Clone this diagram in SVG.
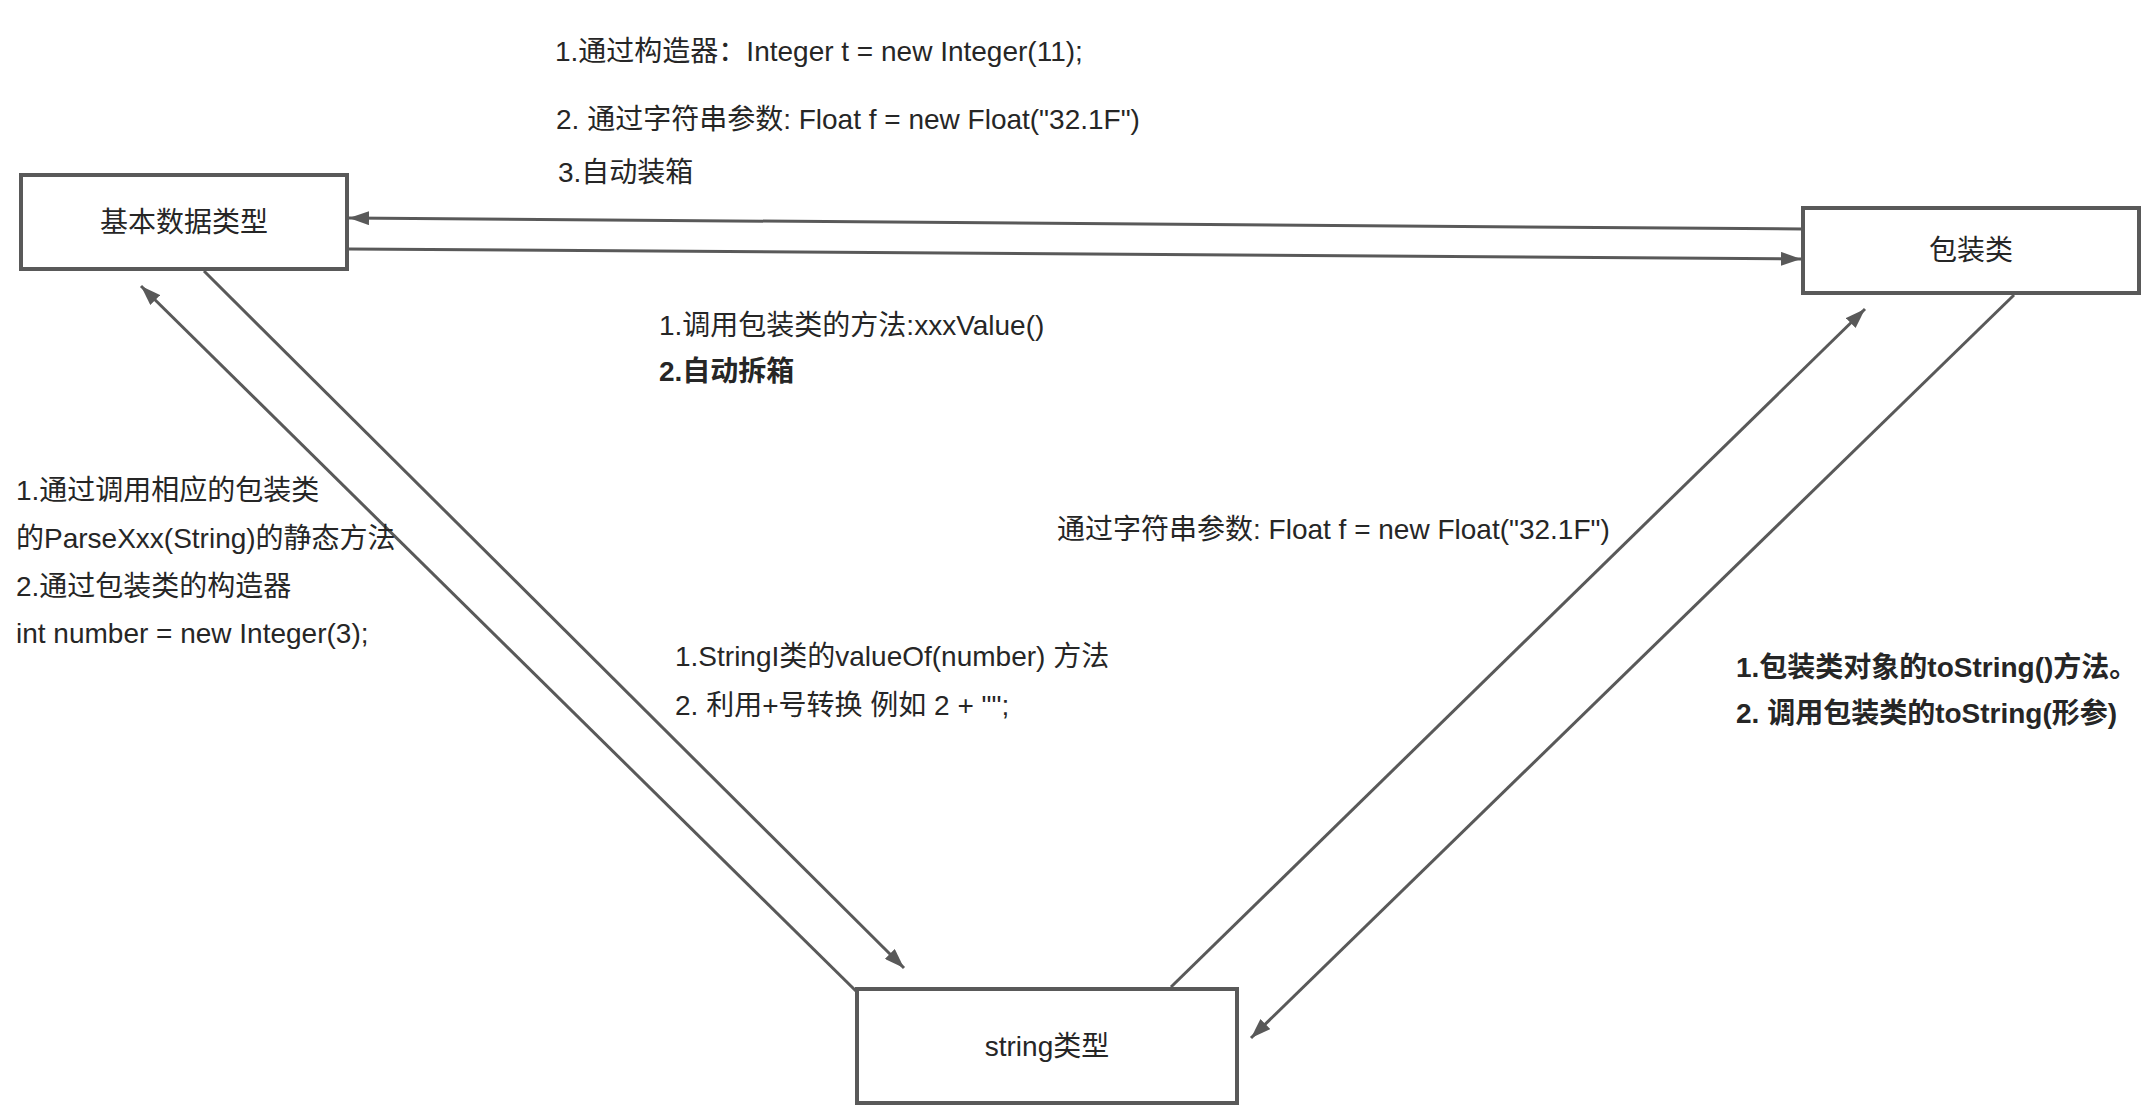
<svg xmlns="http://www.w3.org/2000/svg" width="2147" height="1107" viewBox="0 0 2147 1107">
<style>
.box{fill:#ffffff;stroke:#595959;stroke-width:4}
.lbl{font-family:"Liberation Sans","Noto Sans CJK SC",sans-serif;font-size:28px;fill:#262626;text-anchor:middle}
.t{font-family:"Liberation Sans","Noto Sans CJK SC",sans-serif;font-size:28px;fill:#262626}
.b{font-weight:bold}
.c{fill:none;stroke:#595959;stroke-width:3;marker-end:url(#ah)}
</style>
<defs>
<marker id="ah" viewBox="0 0 20 14" refX="20" refY="7" markerWidth="20" markerHeight="14" markerUnits="userSpaceOnUse" orient="auto">
<path d="M0,0 L20,7 L0,14 z" fill="#595959"/>
</marker>
</defs>
<rect width="2147" height="1107" fill="#ffffff"/>
<g id="connectors">
<line class="c" x1="1803" y1="229" x2="349" y2="218"/>
<line class="c" x1="349" y1="249" x2="1801" y2="259"/>
<line class="c" x1="204" y1="271" x2="904" y2="968"/>
<line class="c" x1="857" y1="992" x2="141" y2="286"/>
<line class="c" x1="1171" y1="987" x2="1865" y2="309"/>
<line class="c" x1="2014" y1="295" x2="1251" y2="1038"/>
</g>
<g id="node-basic">
<rect class="box" x="21" y="175" width="326" height="94"/>
<text class="lbl" x="184" y="232">基本数据类型</text>
</g>
<g id="node-wrapper">
<rect class="box" x="1803" y="208" width="336" height="85"/>
<text class="lbl" x="1971" y="260">包装类</text>
</g>
<g id="node-string">
<rect class="box" x="857" y="989" width="380" height="114"/>
<text class="lbl" x="1047" y="1056">string类型</text>
</g>
<g id="labels">
<text class="t" x="555" y="61">1.通过构造器：Integer t = new Integer(11);</text>
<text class="t" x="556" y="129">2. 通过字符串参数: Float f = new Float("32.1F")</text>
<text class="t" x="558" y="182">3.自动装箱</text>
<text class="t" x="659" y="335">1.调用包装类的方法:xxxValue()</text>
<text class="t b" x="659" y="381">2.自动拆箱</text>
<text class="t" x="16" y="500">1.通过调用相应的包装类</text>
<text class="t" x="16" y="548">的ParseXxx(String)的静态方法</text>
<text class="t" x="16" y="596">2.通过包装类的构造器</text>
<text class="t" x="16" y="643">int number = new Integer(3);</text>
<text class="t" x="1057" y="539">通过字符串参数: Float f = new Float("32.1F")</text>
<text class="t" x="675" y="666">1.StringI类的valueOf(number) 方法</text>
<text class="t" x="675" y="715">2. 利用+号转换 例如 2 + "";</text>
<text class="t b" x="1736" y="677">1.包装类对象的toString()方法。</text>
<text class="t b" x="1736" y="723">2. 调用包装类的toString(形参)</text>
</g>
</svg>
